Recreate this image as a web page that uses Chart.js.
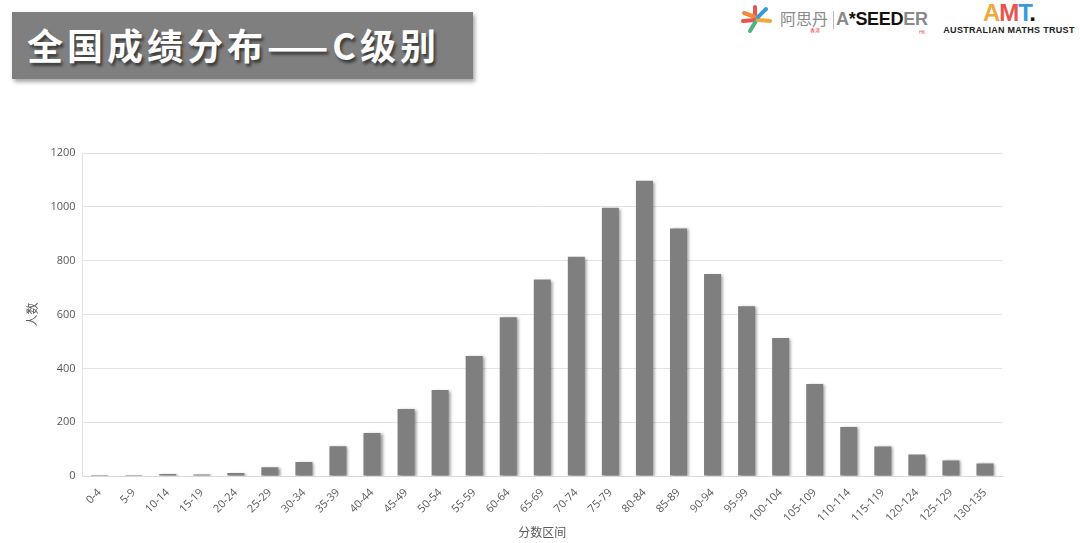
<!DOCTYPE html>
<html>
<head>
<meta charset="utf-8">
<script src="https://cdn.jsdelivr.net/npm/chart.js@4.4.1/dist/chart.umd.min.js"></script>
<style>
  html, body { margin: 0; padding: 0; background: #fff; }
  body { width: 1080px; height: 543px; position: relative; overflow: hidden;
         font-family: "Noto Sans CJK SC", "Noto Sans", sans-serif; }
  .banner {
    position: absolute; left: 12px; top: 12px; width: 461px; height: 67px;
    background: #7f7f7f; box-shadow: 2px 3px 4px rgba(0,0,0,.35);
  }
  .banner span {
    position: absolute; left: 15px; top: 9px; color: #fff;
    font: bold 36px "Noto Sans CJK SC", sans-serif; letter-spacing: 4px;
    line-height: 46px; white-space: nowrap;
    text-shadow: 2px 3px 3px rgba(0,0,0,.55);
  }
  .logo1 { position: absolute; left: 740px; top: 4px; height: 30px; }
  .logo1 .cn { position: absolute; left: 40px; top: 3px; font-size: 16px; line-height: 22px; color: #8a8a8a; white-space: nowrap; }
  .logo1 .cn small { position: absolute; left: 30px; top: 20px; font-size: 5px; line-height: 6px; color: #e8554e; }
  .logo1 .sep { position: absolute; left: 93px; top: 7px; width: 1px; height: 18px; background: #bbb; }
  .logo1 .en { position: absolute; left: 96px; top: 4px; font: bold 18px "Liberation Sans", sans-serif; line-height: 22px; color: #111; letter-spacing: -0.3px; white-space: nowrap; }
  .logo1 .en b { color: #8a8a8a; }
  .logo1 .en small { position: absolute; left: 83px; top: 21px; font-size: 5px; line-height: 6px; color: #e8554e; font-weight: normal; }
  .amt { position: absolute; left: 942px; top: 2px; width: 134px; text-align: center; }
  .amt .big { font: 900 24px "Liberation Sans", sans-serif; letter-spacing: -1px; line-height: 22px; }
  .amt .small { font: bold 9px "Liberation Sans", sans-serif; line-height: 10px; color: #222; letter-spacing: 0.3px; white-space: nowrap; margin-top: 1px; }
  #wrap { position: absolute; left: 0; top: 130px; width: 1080px; height: 413px; }
</style>
</head>
<body>
<div class="banner"><span>全国成绩分布——C级别</span></div>

<div class="logo1">
  <svg width="34" height="30" viewBox="0 0 34 30">
    <g stroke-width="4" stroke-linecap="round">
      <line x1="15" y1="13" x2="15" y2="3" stroke="#e8554e"/>
      <line x1="15" y1="13" x2="4" y2="9" stroke="#f08a3c"/>
      <line x1="15" y1="16" x2="3" y2="17" stroke="#e8554e"/>
      <line x1="16" y1="17" x2="10" y2="27" stroke="#4db37e"/>
      <line x1="18" y1="16" x2="30" y2="17" stroke="#f2a93b"/>
      <line x1="18" y1="13" x2="26" y2="5" stroke="#3a9ad9"/>
    </g>
  </svg>
  <div class="cn">阿思丹<small>香港</small></div>
  <div class="sep"></div>
  <div class="en"><b>A</b>*SEED<b>ER</b><small>HK</small></div>
</div>

<div class="amt">
  <div class="big"><span style="color:#f2a93b">A</span><span style="color:#e8554e">M</span><span style="color:#3a9ad9">T</span><span style="color:#111">.</span></div>
  <div class="small">AUSTRALIAN MATHS TRUST</div>
</div>

<div id="wrap"><canvas id="chart"></canvas></div>

<script>
/* ── Data ───────────────────────────────────────────── */
const bins = ['0-4','5-9','10-14','15-19','20-24','25-29','30-34','35-39','40-44','45-49',
              '50-54','55-59','60-64','65-69','70-74','75-79','80-84','85-89','90-94','95-99',
              '100-104','105-109','110-114','115-119','120-124','125-129','130-135'];
const counts = [2, 2, 8, 6, 11, 33, 52, 111, 160, 249,
                320, 446, 590, 730, 815, 997, 1097, 920, 751, 631,
                513, 342, 182, 110, 80, 58, 47];
const yTicks = [0, 200, 400, 600, 800, 1000, 1200];

/* ── Bar shadow ─────────────────────────────────────── */
const barShadow = {
  id: 'barShadow',
  beforeDatasetsDraw(chart) {
    const ctx = chart.ctx;
    ctx.save();
    ctx.shadowColor = 'rgba(0,0,0,0.4)';
    ctx.shadowBlur = 3;
    ctx.shadowOffsetX = 2;
    ctx.shadowOffsetY = 1;
  },
  afterDatasetsDraw(chart) { chart.ctx.restore(); },
};

const TXT = '#595959';
Chart.defaults.font.family = '"Open Sans", "Noto Sans CJK SC", sans-serif';

new Chart(document.getElementById('chart'), {
  type: 'bar',
  data: {
    labels: bins,
    datasets: [{
      data: counts,
      backgroundColor: '#7f7f7f',
      barPercentage: 0.5,
      categoryPercentage: 1,
      minBarLength: 1,
    }],
  },
  options: {
    responsive: true,
    maintainAspectRatio: false,
    animation: false,
    layout: { padding: { left: 26, right: 78, top: 23, bottom: 0 } },
    plugins: { legend: { display: false }, tooltip: { enabled: false } },
    scales: {
      x: {
        grid: { display: false },
        border: { color: '#d9d9d9' },
        ticks: { color: TXT, font: { size: 11 }, minRotation: 45, maxRotation: 45, autoSkip: false, padding: 2 },
        title: { display: true, text: '分数区间', color: TXT, font: { size: 12 }, padding: { top: 0, bottom: 2 } },
      },
      y: {
        min: 0, max: 1200,
        afterBuildTicks: s => { s.ticks = yTicks.map(v => ({ value: v })); },
        grid: { color: '#e3e3e3', drawTicks: false },
        border: { color: '#e3e3e3' },
        ticks: { color: TXT, font: { size: 11 }, padding: 7, callback: v => String(v) },
        title: { display: true, text: '人数', color: TXT, font: { size: 12 }, padding: { top: 0, bottom: 3 } },
      },
    },
  },
  plugins: [barShadow],
});
</script>
</body>
</html>
